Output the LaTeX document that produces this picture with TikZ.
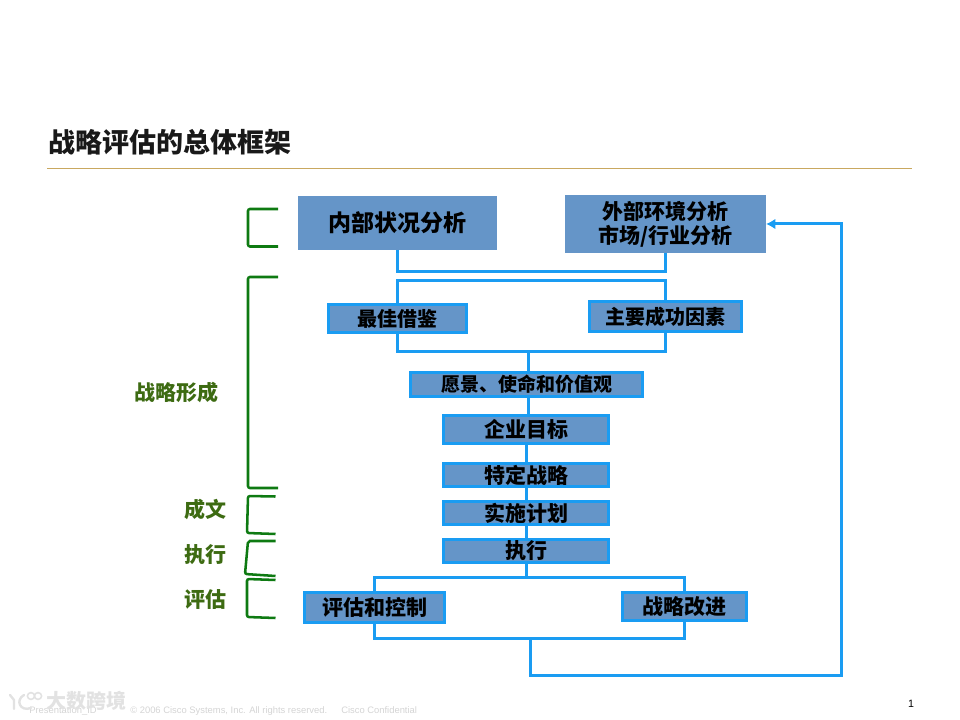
\documentclass[tikz,border=0pt]{standalone}
\usepackage{fontspec}
\setmainfont{Noto Sans CJK SC}
\newfontfamily\footfont{Liberation Sans}
\definecolor{boxFill}{HTML}{6595C8}
\definecolor{flowBlue}{HTML}{1A9CF2}
\definecolor{braceGreen}{HTML}{0E7A12}
\definecolor{labelGreen}{HTML}{3D6B12}
\definecolor{ruleTan}{HTML}{C9A860}
\definecolor{footGray}{HTML}{D4D4D4}
\definecolor{markGray}{HTML}{E2E2E2}
\usetikzlibrary{arrows.meta}
\tikzset{
  planBox/.style={fill=boxFill, text=black, inner sep=0pt, outer sep=0pt, align=center, font=\bfseries\fontsize{15.75}{19}\selectfont},
  stageBox/.style={planBox, draw=flowBlue, line width=2.25pt},
  flowLine/.style={draw=flowBlue, line width=2.25pt},
  braceLine/.style={draw=braceGreen, line width=1.9pt, rounded corners=1.5pt},
  sideLabel/.style={text=labelGreen, inner sep=0pt, font=\bfseries\fontsize{15.75}{19}\selectfont},
  footText/.style={anchor=base west, inner sep=0pt, text=footGray, font=\footfont\fontsize{7.05}{8}\selectfont},
}
\begin{document}
\begin{tikzpicture}[x=0.75pt, y=-0.75pt]
  \useasboundingbox (0,0) rectangle (960,720);
  \node[anchor=west, inner sep=0pt, text=black!90, font=\bfseries\fontsize{20.25}{24}\selectfont] (titleText) at (48,142) {战略评估的总体框架};
  \coordinate (ruleLeft) at (47,168.5);
  \coordinate (ruleRight) at (912,168.5);
  \draw[ruleTan, line width=0.9pt] (ruleLeft) -- (ruleRight);

  \node[planBox, minimum width=149.25pt, minimum height=40.5pt, font=\bfseries\fontsize{17.25}{20}\selectfont] (innerBox) at (397.5,223) {内部状况分析};
  \node[planBox, minimum width=150.75pt, minimum height=43.5pt] (outerBox) at (665.5,224) {外部环境分析\\[-1pt]市场/行业分析};
  \node[stageBox, minimum width=103.5pt, minimum height=21pt, font=\bfseries\fontsize{15}{18}\selectfont] (bestBox) at (397.5,318.5) {最佳借鉴};
  \node[stageBox, minimum width=114pt, minimum height=22.5pt, font=\bfseries\fontsize{15}{18}\selectfont] (factorBox) at (665.5,316.5) {主要成功因素};
  \node[stageBox, minimum width=174pt, minimum height=18pt, font=\bfseries\fontsize{14.25}{17}\selectfont] (visionBox) at (526.5,384) {愿景、使命和价值观};
  \node[stageBox, minimum width=123.75pt, minimum height=21pt] (goalBox) at (526,429.5) {企业目标};
  \node[stageBox, minimum width=123.75pt, minimum height=17.25pt] (strategyBox) at (526,475) {特定战略};
  \node[stageBox, minimum width=123.75pt, minimum height=17.25pt] (planningBox) at (526,513) {实施计划};
  \node[stageBox, minimum width=123.75pt, minimum height=17.25pt] (actionBox) at (526,551) {执行};
  \node[stageBox, minimum width=105pt, minimum height=22.5pt] (controlBox) at (374.5,607.5) {评估和控制};
  \node[stageBox, minimum width=93pt, minimum height=21pt] (improveBox) at (684.5,606.5) {战略改进};

  \coordinate (railA) at (0,272);
  \coordinate (railB) at (0,281);
  \coordinate (railC) at (0,351);
  \coordinate (railD) at (0,577);
  \coordinate (railE) at (0,638);
  \coordinate (midTop) at (528,351);
  \coordinate (backStart) at (530.5,638);
  \coordinate (backLow) at (530.5,675);
  \coordinate (backCorner) at (841,675);

  \draw[flowLine] (innerBox.south) -- (innerBox.south |- railA) -| (outerBox.south);
  \draw[flowLine] (bestBox.north) -- (bestBox.north |- railB) -| (factorBox.north);
  \draw[flowLine] (bestBox.south) -- (bestBox.south |- railC) -| (factorBox.south);
  \draw[flowLine] (midTop) -- (midTop |- visionBox.north);
  \draw[flowLine] (midTop |- visionBox.south) -- (midTop |- goalBox.north);
  \draw[flowLine] (goalBox.south) -- (strategyBox.north);
  \draw[flowLine] (strategyBox.south) -- (planningBox.north);
  \draw[flowLine] (planningBox.south) -- (actionBox.north);
  \draw[flowLine] (actionBox.south) -- (actionBox.south |- railD);
  \draw[flowLine] (controlBox.north) -- (controlBox.north |- railD) -| (improveBox.north);
  \draw[flowLine] (controlBox.south) -- (controlBox.south |- railE) -| (improveBox.south);
  \draw[flowLine, -{Latex[length=7pt,width=8pt]}] (backStart) -- (backLow) -- (backCorner) |- (outerBox.east);

  \draw[braceLine] (278,209) -- (248,209) -- (248,246.5) -- (278,246.5);
  \draw[braceLine] (278,277) -- (248,277) -- (248,488) -- (278,488);
  \draw[braceLine] (275.5,496.5) -- (248,496) -- (247,533) -- (275.5,534);
  \draw[braceLine] (275.5,541) -- (248,541) -- (245,574) -- (275.5,576);
  \draw[braceLine] (275.5,580) -- (247,579) -- (247,617) -- (275.5,618);

  \node[sideLabel] (formLabel) at (176,392) {战略形成};
  \node[sideLabel] (writeLabel) at (205,509) {成文};
  \node[sideLabel] (runLabel) at (205,555) {执行};
  \node[sideLabel] (reviewLabel) at (205,600) {评估};

  \node[footText] (idText) at (29,713) {Presentation\_ID};
  \node[footText] (copyText) at (130,713) {© 2006 Cisco Systems, Inc. All rights reserved.};
  \node[footText] (confText) at (341,713) {Cisco Confidential};
  \node[anchor=west, inner sep=0pt, text=markGray, font=\bfseries\fontsize{15}{18}\selectfont] (markText) at (46,701) {大数跨境};
  \draw[markGray, line width=1.8pt, line cap=round] (10,695) -- (14,700) -- (14,709);
  \draw[markGray, line width=1.8pt, line cap=round] (31,708) .. controls (20,712) and (15,700) .. (24,695);
  \draw[markGray, line width=1.2pt] (31,696) ellipse (3.6 and 3.4);
  \draw[markGray, line width=1.2pt] (38,696) ellipse (3.6 and 3.4);
  \node[inner sep=0pt, font=\footfont\fontsize{8}{10}\selectfont] (pageNum) at (911,704) {1};
\end{tikzpicture}
\end{document}
